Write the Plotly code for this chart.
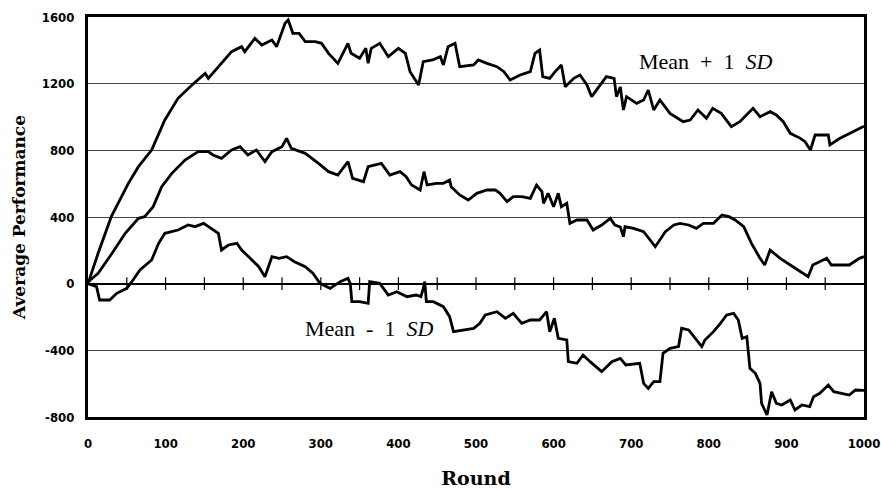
import plotly.graph_objects as go

# Mean + 1 SD
upper_x = [0, 13, 30, 52, 65, 82, 99, 116, 134, 151, 155, 172, 185, 198, 202, 215, 224, 237, 243, 254, 258, 264, 272, 280, 293, 301, 310, 322,
           335, 339, 350, 358, 361, 365, 376, 387, 400, 409, 415, 426, 432, 444, 454, 458, 464, 473, 479, 497, 503, 514, 527, 536, 544, 557, 570, 576,
           582, 586, 595, 602, 610, 615, 626, 634, 643, 649, 658, 668, 678, 681, 686, 690, 694, 707, 716, 722, 729, 737, 750, 767,
           776, 786, 797, 805, 816, 829, 840, 857, 866, 879, 887, 896, 905, 918, 924, 931, 937, 954, 956, 969, 982, 997, 1000]
upper_y = [0, 182, 402, 602, 702, 802, 982, 1112, 1192, 1262, 1232, 1322, 1392, 1422, 1392, 1472, 1432, 1462, 1422, 1562, 1582, 1502, 1502, 1452, 1452, 1442, 1382, 1322,
           1442, 1382, 1352, 1412, 1322, 1412, 1442, 1362, 1412, 1382, 1272, 1192, 1332, 1342, 1362, 1312, 1422, 1442, 1302, 1312, 1342, 1322, 1302, 1272, 1222, 1252, 1272, 1382,
           1402, 1242, 1232, 1272, 1312, 1182, 1232, 1252, 1192, 1122, 1182, 1242, 1232, 1122, 1180, 1042, 1122, 1082, 1102, 1162, 1042, 1102, 1022, 972,
           982, 1042, 992, 1052, 1022, 942, 972, 1052, 1002, 1032, 1012, 972, 902, 872, 852, 802, 892, 892, 832, 872, 902, 942, 945]

# Mean
mean_x = [0, 13, 31, 48, 65, 73, 84, 95, 108, 125, 142, 155, 161, 172, 185, 196, 206, 217, 228, 237, 250, 256, 262, 280, 297, 310, 322,
          335, 341, 355, 361, 368, 378, 389, 402, 410, 417, 428, 433, 437, 449, 458, 466, 468, 479, 490, 501, 514, 525, 531, 540, 548, 559, 570,
          578, 585, 587, 593, 600, 606, 610, 617, 621, 630, 643, 651, 662, 673, 679, 686, 690, 692, 703, 716, 731, 744, 755, 763, 774,
          784, 793, 806, 817, 826, 834, 845, 855, 866, 872, 879, 892, 905, 918, 928, 934, 942, 952, 958, 981, 994, 1000]
mean_y = [10, 62, 182, 302, 392, 402, 462, 582, 662, 742, 792, 792, 772, 752, 802, 822, 772, 802, 732, 792, 822, 872, 812, 782, 722, 672, 652,
          732, 632, 612, 702, 712, 722, 652, 672, 642, 592, 562, 672, 592, 602, 602, 622, 582, 532, 502, 542, 562, 562, 542, 492, 522, 522, 512,
          592, 552, 482, 542, 462, 542, 462, 482, 362, 382, 382, 322, 352, 392, 352, 340, 282, 342, 332, 312, 222, 312, 352, 362, 352,
          332, 362, 362, 412, 402, 382, 342, 242, 152, 112, 202, 152, 112, 72, 42, 112, 132, 152, 112, 112, 152, 162]

# Mean - 1 SD
lower_x = [0, 11, 15, 28, 37, 50, 58, 67, 82, 91, 99, 116, 129, 138, 149, 158, 168, 172, 181, 192, 198, 207, 220, 228, 237, 246, 256, 266,
           280, 290, 299, 312, 325, 335, 338, 340, 350, 361, 363, 376, 387, 398, 411, 423, 429, 432, 434, 436, 445, 458, 466, 471, 484, 497, 505,
           512, 527, 538, 548, 559, 570, 582, 591, 595, 601, 606, 617, 619, 630, 638, 647, 662, 675, 686, 693, 711, 716, 722, 729, 737,
           741, 750, 761, 765, 774, 782, 791, 795, 806, 815, 823, 832, 838, 843, 849, 853, 860, 866, 868, 875, 881, 887, 894, 905,
           911, 920, 930, 935, 943, 954, 961, 981, 989, 1000]
lower_y = [0, -18, -98, -98, -58, -28, 22, 82, 142, 242, 302, 322, 352, 342, 362, 332, 302, 202, 232, 242, 202, 162, 102, 42, 162, 152, 162, 132,
           102, 62, 2, -28, 12, 32, 0, -108, -108, -118, 12, 2, -68, -48, -78, -68, -78, -30, 12, -108, -108, -138, -198, -288, -278, -268, -238,
           -188, -168, -208, -178, -238, -218, -218, -168, -288, -208, -328, -338, -468, -478, -428, -468, -528, -468, -448, -488, -478, -598, -628, -588, -588,
           -418, -388, -378, -268, -278, -328, -378, -338, -288, -238, -188, -178, -218, -328, -318, -508, -538, -598, -718, -788, -648, -718, -728, -698,
           -758, -728, -738, -678, -658, -608, -648, -668, -638, -640]

y_ticks = [1600, 1200, 800, 400, 0, -400, -800]
y_labels = ["1600", "1200", "800", "400", "0", "-400", "-800"]
x_ticks = [0, 100, 200, 300, 400, 500, 600, 700, 800, 900, 1000]
x_labels = [str(v) for v in x_ticks]
minor_x = list(range(50, 1000, 50))

tick_font = dict(family="DejaVu Sans Condensed, Liberation Sans Narrow, Liberation Sans", size=13,
                 color="black", weight="bold")
title_serif = "DejaVu Serif, Liberation Serif, serif"
serif = "Liberation Serif, Times New Roman, serif"

fig = go.Figure()
for xs, ys in [(upper_x, upper_y), (mean_x, mean_y), (lower_x, lower_y)]:
    fig.add_trace(go.Scatter(x=xs, y=ys, mode="lines", line=dict(color="black", width=2.8),
                             showlegend=False, hoverinfo="skip"))

# cross ticks on the zero line
fig.add_trace(go.Scatter(x=minor_x, y=[0] * len(minor_x), mode="markers",
                         marker=dict(symbol="line-ns", size=9, line=dict(color="black", width=1.2)),
                         showlegend=False, hoverinfo="skip"))

fig.update_layout(
    width=881, height=489,
    margin=dict(l=88, r=17, t=17, b=72, autoexpand=False),
    paper_bgcolor="white", plot_bgcolor="white",
    xaxis=dict(range=[0, 1000], tickvals=x_ticks, ticktext=x_labels, showgrid=False,
               zeroline=False, showline=True, linecolor="black", linewidth=3, mirror=True,
               ticks="", tickfont=tick_font, ticklabelstandoff=12, automargin=False,
               title=dict(text="<b>Round</b>", font=dict(family=title_serif, size=19, color="#000000"), standoff=24)),
    yaxis=dict(range=[-800, 1600], tickvals=y_ticks, ticktext=y_labels, showgrid=True,
               gridcolor="#444", gridwidth=1, zeroline=True, zerolinecolor="black", zerolinewidth=1.5,
               showline=True, linecolor="black", linewidth=3, mirror=True, automargin=False,
               ticks="", tickfont=tick_font, ticklabelstandoff=8,
               title=dict(text="<b>Average Performance</b>", font=dict(family=title_serif, size=17, color="#000000"), standoff=12)),
    annotations=[
        dict(x=796, y=1332, xref="x", yref="y", text="Mean&nbsp; +&nbsp; 1&nbsp; <i>SD</i>", showarrow=False,
             font=dict(family=serif, size=22, color="black")),
        dict(x=362, y=-266, xref="x", yref="y", text="Mean&nbsp; -&nbsp; 1&nbsp; <i>SD</i>", showarrow=False,
             font=dict(family=serif, size=22, color="black")),
    ],
)

fig.write_html("out.html")
